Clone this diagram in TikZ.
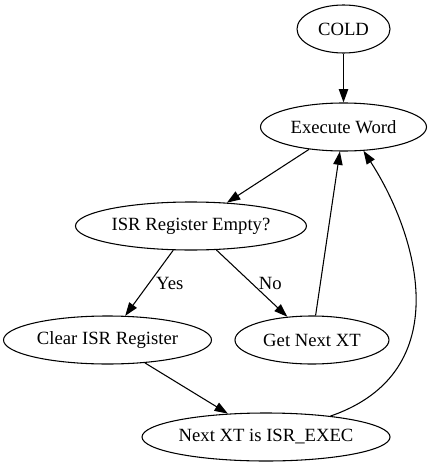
\documentclass[tikz,border=0pt]{standalone}
\usepackage{fontspec}
\setmainfont{Liberation Serif}
\usetikzlibrary{arrows.meta,positioning,shapes.geometric}

\newcommand{\txt}[1]{\makebox[0pt]{#1}}

\begin{document}
\begin{tikzpicture}[x=0.75pt,y=-0.75pt,on grid,
    >={Triangle[length=10pt,width=7pt]},
    font=\fontsize{14pt}{16pt}\selectfont,
    stage/.style={ellipse,draw,line width=0.8pt,inner sep=0pt,minimum height=36pt}]
    \useasboundingbox (0,0) rectangle (431,467);
    \node[stage,minimum width=69.75pt]  (cold)    at (343.5,29)                      {\txt{COLD}};
    \node[stage,minimum width=124.5pt]  (exec)    [below=73.5pt of cold]             {\txt{Execute Word}};
    \node[stage,minimum width=173.25pt] (isr)     [below left=74.25pt and 114.4pt of exec]   {\txt{ISR Register Empty?}};
    \node[stage,minimum width=156pt]    (clear)   [below left=85.5pt and 62.6pt of isr]      {\txt{Clear ISR Register}};
    \node[stage,minimum width=115.5pt]  (getxt)   [below right=85.5pt and 90.75pt of isr]    {\txt{Get Next XT}};
    \node[stage,minimum width=186pt]    (isrexec) [below right=72.75pt and 118.9pt of clear] {\txt{Next XT is ISR\_EXEC}};
    \path[->,line width=0.8pt]
    (cold) edge (exec)
    (exec) edge (isr)
    % decision edges
    (isr) edge node[right,xshift=1.5pt] {Yes} (clear)
    (isr) edge node[right,xshift=1.5pt] {No}  (getxt)
    % back to execute
    (getxt) edge (exec)
    (clear) edge (isrexec);
    \draw[->,line width=0.8pt] (isrexec.18) .. controls (458,372) and (418,235) .. (exec.-50);
\end{tikzpicture}
\end{document}
